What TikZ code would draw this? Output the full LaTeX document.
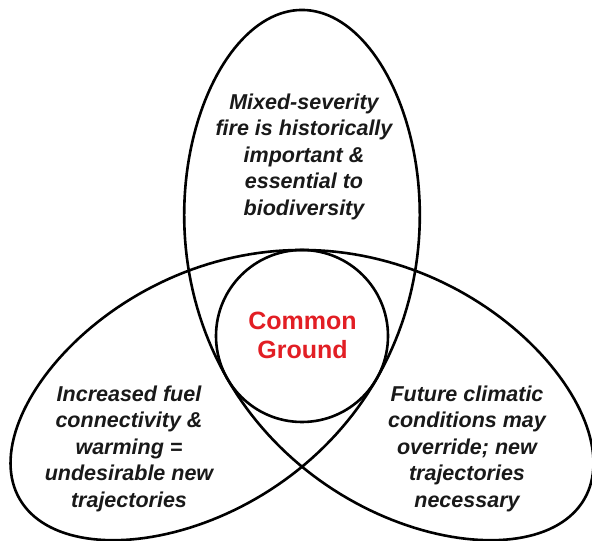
\documentclass[tikz,border=0pt]{standalone}
\usepackage{fontspec}
\setmainfont{Liberation Sans}
\definecolor{coreRed}{RGB}{226,30,36}
\definecolor{inkText}{RGB}{25,25,25}
\begin{document}
\begin{tikzpicture}[x=1pt,y=1pt,
  outline/.style={line width=2.6pt, draw=black, line join=round},
  lobetext/.style={align=center, inner sep=0pt, text=inkText,
    font=\fontsize{21.5}{26.5}\selectfont\bfseries\itshape},
  coretext/.style={align=center, inner sep=0pt, text=coreRed,
    font=\fontsize{25}{29}\selectfont\bfseries}]
  \fill[white] (0,0) rectangle (592,541);
  \useasboundingbox (0,0) rectangle (592,541);
  \coordinate (O) at (302,205);
  % three-lobed knot outline (one closed curve with three crossings)
  \draw[outline] plot[domain=0:360, samples=361, variable=\t]
    ({302+120*(sin(\t)+1.667*sin(2*\t)-0.05*sin(4*\t))},
     {205+120*(-cos(\t)+1.667*cos(2*\t)+0.05*cos(4*\t))}) -- cycle;
  % central circle
  \draw[outline] (O) circle[radius=86];
  % labels
  \node[lobetext] (top) at (304,384.5)
    {Mixed-severity\\fire is historically\\important \&\\essential to\\biodiversity};
  \node[lobetext] (left) at (129,92.5)
    {Increased fuel\\connectivity \&\\warming =\\undesirable new\\trajectories};
  \node[lobetext] (right) at (467,92.5)
    {Future climatic\\conditions may\\override; new\\trajectories\\necessary};
  \node[coretext] (core) at (302.5,206) {Common\\Ground};
\end{tikzpicture}
\end{document}
